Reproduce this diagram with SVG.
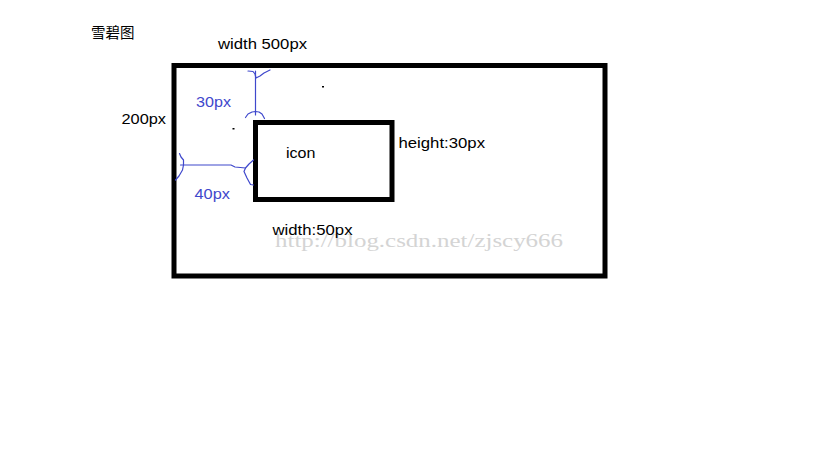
<svg xmlns="http://www.w3.org/2000/svg" width="819" height="460" viewBox="0 0 819 460">
<style>
.t{font-family:"Liberation Sans",Arial,sans-serif;font-size:15.5px;fill:#000}
.b{font-family:"Liberation Sans",Arial,sans-serif;font-size:15.5px;fill:#3f48cc}
.box{fill:none;stroke:#000;stroke-width:5}
.bl{fill:none;stroke:#3f48cc;stroke-width:1.2;stroke-linejoin:round;stroke-linecap:round}
.wm{font-family:"Liberation Serif","Times New Roman",serif;font-size:18px;fill:#d4d4d4}
</style>
<rect width="819" height="460" fill="#fff"/>
<text x="91" y="38" style="font-family:'Noto Sans CJK SC',sans-serif;font-size:14.5px;fill:#000">雪碧图</text>
<text class="t" x="218" y="49" textLength="89" lengthAdjust="spacingAndGlyphs">width 500px</text>
<text class="t" x="121.5" y="124" textLength="44.5" lengthAdjust="spacingAndGlyphs">200px</text>
<g id="outer"><rect class="box" x="174" y="65.5" width="431" height="210.5"/></g>
<text class="wm" x="275" y="247" textLength="288" lengthAdjust="spacingAndGlyphs">http://blog.csdn.net/zjscy666</text>
<g id="icon">
<rect class="box" x="255.5" y="122.5" width="136.5" height="77"/>
<text class="t" x="286" y="157.5" textLength="29.5" lengthAdjust="spacingAndGlyphs">icon</text>
</g>
<text class="t" x="398.5" y="147.5" textLength="86.5" lengthAdjust="spacingAndGlyphs">height:30px</text>
<text class="t" x="272.5" y="234.5" textLength="80" lengthAdjust="spacingAndGlyphs">width:50px</text>
<g id="connectors">
<path class="bl" d="M255.5,71 L255.5,115"/>
<path class="bl" d="M248,71 L253,71.5 L255,74 L256,78 M270,70 L264,73 L260,76 L256,78"/>
<path class="bl" d="M245.5,117.5 L248,114 L252,112 L255.5,111.5 L259,112 L262,114 L264.5,118.5"/>
<path class="bl" d="M180.5,165 L231,165 L235,167 L245.5,168"/>
<path class="bl" d="M179.5,153.5 L181,157 L183.5,160 L183.5,165 L182.5,170 L179,176 L175.5,180"/>
<path class="bl" d="M253.5,160 L249,164 L245.5,168 L244,171.5 L247,178 L250.5,184.5 L253.5,185"/>
</g>
<text class="b" x="196" y="107" textLength="35" lengthAdjust="spacingAndGlyphs">30px</text>
<text class="b" x="194.5" y="199" textLength="35.5" lengthAdjust="spacingAndGlyphs">40px</text>
<rect x="322" y="86" width="2" height="1.5" fill="#000"/>
<rect x="232.5" y="128" width="2" height="1.5" fill="#000"/>
</svg>
